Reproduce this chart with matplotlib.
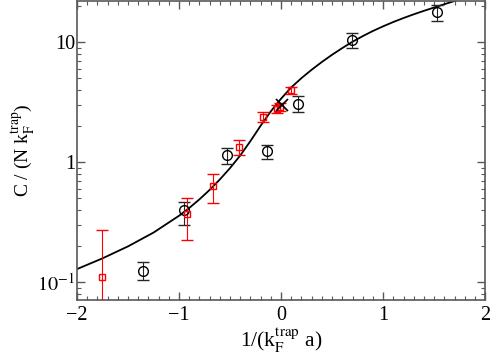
"""Contact parameter C/(N k_F) versus 1/(k_F a), log scale."""

import matplotlib
matplotlib.use("Agg")
import matplotlib.pyplot as plt
from matplotlib.ticker import FixedLocator, FixedFormatter, LogLocator, MultipleLocator, NullFormatter

plt.rcParams["font.family"] = ["Liberation Serif", "DejaVu Serif"]
plt.rcParams["mathtext.fontset"] = "stix"

# theory curve
curve_x = [-2.0, -1.75, -1.5, -1.25, -1.0, -0.9, -0.8, -0.7, -0.6, -0.5, -0.4, -0.3,
           -0.2, -0.1, 0.0, 0.1, 0.2, 0.3, 0.4, 0.5, 0.6, 0.7, 0.8, 0.9, 1.0,
           1.1, 1.2, 1.3, 1.4, 1.5, 1.6, 1.7, 1.8]
curve_y = [0.129, 0.1585, 0.1995, 0.260, 0.359, 0.417, 0.492, 0.590, 0.721, 0.897, 1.143, 1.507,
           2.023, 2.667, 3.396, 4.22, 5.04, 5.92, 6.87, 7.89, 8.97, 10.12, 11.27, 12.45, 13.61,
           14.79, 15.96, 17.14, 18.32, 19.54, 20.80, 22.13, 23.55]

# black circles
circ_x = [-1.356, -0.948, -0.532, -0.14, 0.17, 0.693, 1.53]
circ_y = [0.125, 0.40, 1.16, 1.24, 3.08, 10.4, 17.9]
circ_lo = [0.104, 0.30, 0.97, 1.07, 2.64, 8.9, 15.1]
circ_hi = [0.147, 0.467, 1.32, 1.40, 3.55, 12.0, 20.5]

# red squares
sq_x = [-1.752, -0.919, -0.664, -0.415, -0.18, -0.04, -0.015, 0.095]
sq_y = [0.111, 0.369, 0.63, 1.35, 2.40, 2.78, 2.90, 4.01]
sq_lo = [0.05, 0.224, 0.455, 1.15, 2.15, 2.58, 2.70, 3.74]
sq_hi = [0.274, 0.507, 0.80, 1.55, 2.64, 3.00, 3.10, 4.27]

# single cross point
cross_x = [0.01]
cross_y = [3.0]

ytick_vals = [0.1, 1, 10]
ytick_labels = [r"$10^{-1}$", "1", "10"]

fig = plt.figure(figsize=(4.91, 3.58), dpi=100)
ax = fig.add_axes([0.157, 0.162, 0.831, 0.835])

ax.plot(curve_x, curve_y, color="black", lw=1.3, zorder=2)

ax.errorbar(circ_x, circ_y,
            yerr=[[y - l for y, l in zip(circ_y, circ_lo)], [h - y for y, h in zip(circ_y, circ_hi)]],
            fmt="o", mfc="none", mec="black", ms=7, mew=1.0,
            ecolor="0.15", elinewidth=0.8, capsize=4, capthick=0.8, zorder=3)

ax.errorbar(sq_x, sq_y,
            yerr=[[y - l for y, l in zip(sq_y, sq_lo)], [h - y for y, h in zip(sq_y, sq_hi)]],
            fmt="s", mfc="none", mec="red", ms=5, mew=1.0,
            ecolor="red", elinewidth=0.8, capsize=4, capthick=0.8, zorder=3)

ax.plot(cross_x, cross_y, marker="x", ls="none", color="black", ms=9, mew=1.2, zorder=4)

ax.set_yscale("log")
ax.set_xlim(-2, 2)
ax.set_ylim(0.0712, 22.1)

ax.xaxis.set_major_locator(MultipleLocator(1))
ax.xaxis.set_minor_locator(MultipleLocator(0.1))
ax.yaxis.set_major_locator(FixedLocator(ytick_vals))
ax.yaxis.set_major_formatter(FixedFormatter(ytick_labels))
ax.yaxis.set_minor_locator(LogLocator(base=10, subs=range(2, 10)))
ax.yaxis.set_minor_formatter(NullFormatter())

ax.tick_params(which="both", direction="in", top=True, right=True, color="0.35",
               labelsize=14.5)
ax.tick_params(axis="x", pad=4)
ax.tick_params(axis="y", pad=1.5)
ax.tick_params(which="major", length=6, width=1.0)
ax.tick_params(which="minor", length=3, width=0.8)
for sp in ax.spines.values():
    sp.set_color("0.35")
    sp.set_linewidth(1.2)

ax.set_xlabel(r"1/(k$_\mathrm{F}^\mathrm{trap}$ a)", fontsize=15.5, labelpad=1)
ax.set_ylabel(r"C / (N k$_\mathrm{F}^\mathrm{trap}$)", fontsize=14, labelpad=0)

fig.savefig("out.png", dpi=100)
